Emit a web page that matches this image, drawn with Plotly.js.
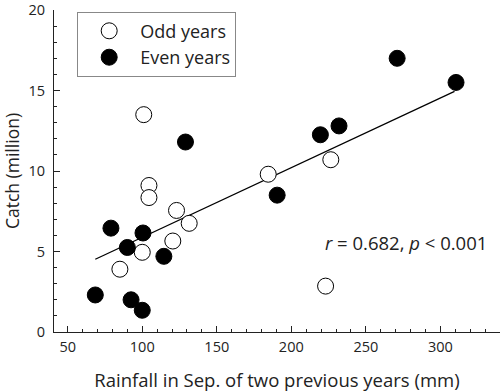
<!DOCTYPE html>
<html>
<head>
<meta charset="utf-8">
<script src="https://cdn.plot.ly/plotly-3.0.1.min.js"></script>
<style>html,body{margin:0;padding:0;background:#fff;}#chart{width:500px;height:392px;}</style>
</head>
<body>
<div id="chart"></div>
<script>
// Odd years (open circles)
const oddRain  = [101, 104.5, 104.5, 123, 131.5, 120.5, 100, 85, 184.5, 226.5, 223];
const oddCatch = [13.5, 9.1, 8.35, 7.55, 6.75, 5.65, 4.95, 3.9, 9.8, 10.7, 2.85];
// Even years (filled circles)
const evenRain  = [271, 310.5, 219.5, 232, 129, 190.5, 79, 100.5, 90, 114.5, 68.5, 92.5, 100];
const evenCatch = [17.0, 15.5, 12.25, 12.8, 11.8, 8.5, 6.45, 6.15, 5.25, 4.7, 2.3, 2.0, 1.35];
// Regression line end points
const fitRain  = [68.5, 309.5];
const fitCatch = [4.52, 14.95];

const xTicks = [50, 100, 150, 200, 250, 300];
const yTicks = [0, 5, 10, 15, 20];

const FONT = '"Open Sans", sans-serif';
const TXT = '#222';

const traces = [
  {x: fitRain, y: fitCatch, mode: 'lines', line: {color: '#000', width: 1.3}, showlegend: false, hoverinfo: 'skip'},
  {x: oddRain, y: oddCatch, mode: 'markers', name: 'Odd years',
   marker: {symbol: 'circle', size: 16, color: '#fff', line: {color: '#000', width: 1}}},
  {x: evenRain, y: evenCatch, mode: 'markers', name: 'Even years',
   marker: {symbol: 'circle', size: 16, color: '#000', line: {color: '#000', width: 1}}}
];

const layout = {
  width: 500, height: 392,
  margin: {l: 54, r: 0, t: 10, b: 60},
  paper_bgcolor: '#fff', plot_bgcolor: '#fff',
  font: {family: FONT, size: 14, color: TXT},
  showlegend: true,
  legend: {x: 0.052, y: 0.995, xanchor: 'left', yanchor: 'top',
           bordercolor: '#888', borderwidth: 1, bgcolor: '#fff',
           font: {family: FONT, size: 18, color: TXT}, tracegroupgap: 0, itemwidth: 52},
  xaxis: {range: [40.8, 340], tickvals: xTicks, ticktext: xTicks.map(String),
          ticks: 'inside', ticklen: 6, tickwidth: 1, tickcolor: '#222',
          minor: {dtick: 10, tick0: 0, ticks: 'inside', ticklen: 3, tickcolor: '#222'},
          showline: true, linecolor: '#222', linewidth: 1, showgrid: false, zeroline: false,
          tickfont: {size: 14.5}, ticklabelstandoff: 2, ticklabeloverflow: 'allow',
          title: {text: 'Rainfall in Sep. of two previous years (mm)', font: {size: 18.5}, standoff: 18}},
  yaxis: {range: [0, 20], tickvals: yTicks, ticktext: yTicks.map(String),
          ticks: 'inside', ticklen: 6, tickwidth: 1, tickcolor: '#222',
          minor: {dtick: 1, tick0: 0, ticks: 'inside', ticklen: 3, tickcolor: '#222'},
          showline: true, linecolor: '#222', linewidth: 1, showgrid: false, zeroline: false,
          tickfont: {size: 14.5}, ticklabelstandoff: 5, ticklabeloverflow: 'allow',
          title: {text: 'Catch (million)', font: {size: 17.5}, standoff: 9}},
  annotations: [{xref: 'paper', yref: 'paper', x: 0.789, y: 0.279, xanchor: 'center', yanchor: 'middle',
    text: '<i>r</i> = 0.682, <i>p</i> < 0.001', showarrow: false, font: {family: FONT, size: 18.5, color: TXT}}]
};

Plotly.newPlot('chart', traces, layout, {displayModeBar: false, staticPlot: true});
</script>
</body>
</html>
